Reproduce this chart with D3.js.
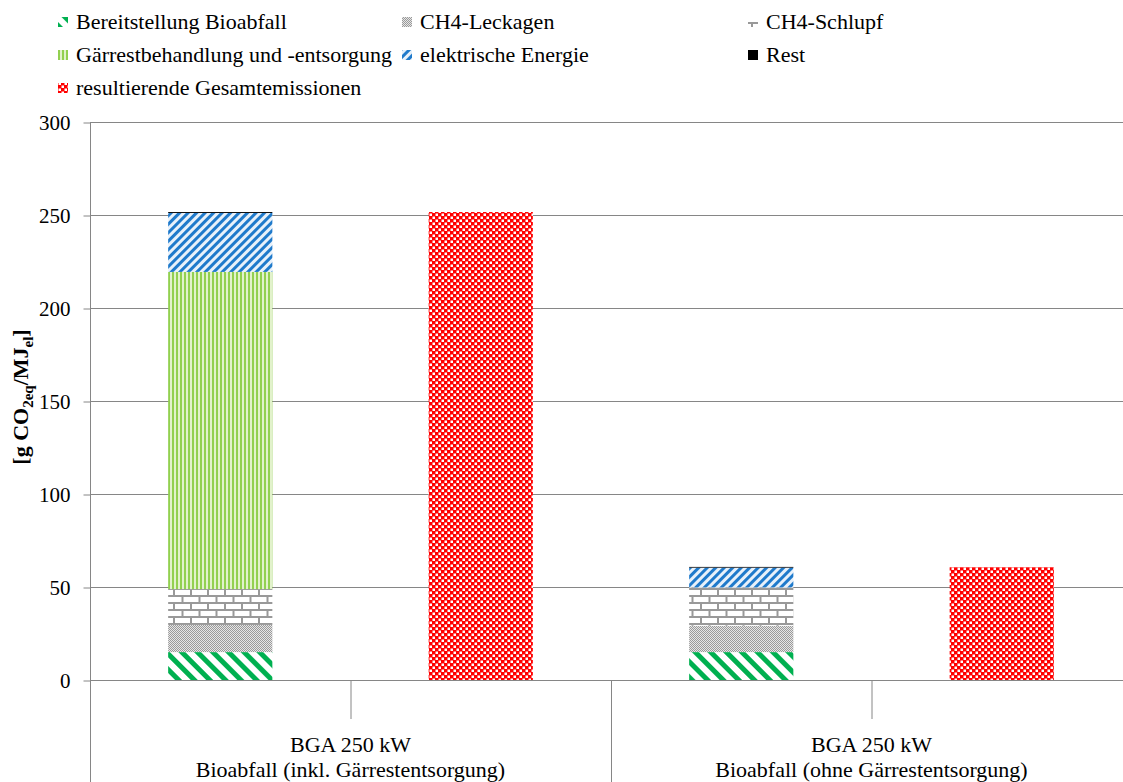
<!DOCTYPE html>
<html><head><meta charset="utf-8">
<script src="https://cdn.jsdelivr.net/npm/d3@7"></script>
<style>
html,body{margin:0;padding:0;background:#fff;}
svg{display:block;font-family:"Liberation Serif","Times New Roman",serif;}
</style></head>
<body>
<svg id="chart" width="1123" height="782"></svg>
<script>
// ---- data ----
const groups = ["BGA 250 kW|Bioabfall (inkl. Gärrestentsorgung)", "BGA 250 kW|Bioabfall (ohne Gärrestentsorgung)"];
const categories = ["g1-stack", "g1-total", "g2-stack", "g2-total"];
const seriesNames = ["Bereitstellung Bioabfall", "CH4-Leckagen", "CH4-Schlupf", "Gärrestbehandlung und -entsorgung", "elektrische Energie", "Rest", "resultierende Gesamtemissionen"];
const bereitstellung = [15.0, 0, 15.0, 0];
const leckagen = [14.6, 0, 14.2, 0];
const schlupf = [19.3, 0, 20.6, 0];
const gaerrest = [170.5, 0, 0, 0];
const elektrisch = [31.7, 0, 10.6, 0];
const rest = [0.5, 0, 0.4, 0];
const gesamt = [0, 251.6, 0, 60.6];
const yTicks = [0, 50, 100, 150, 200, 250, 300];

const seriesValues = [bereitstellung, leckagen, schlupf, gaerrest, elektrisch, rest, gesamt];
const patternIds = ["p-bereit", "p-leck", "p-schlupf", "p-gaer", "p-elek", null, "p-ges"];

const FONT = "Liberation Serif, Times New Roman, serif";
const svg = d3.select("#chart");
const defs = svg.append("defs");

function pat(id, w, h, build, transform) {
  const p = defs.append("pattern").attr("id", id).attr("patternUnits", "userSpaceOnUse")
    .attr("width", w).attr("height", h);
  if (transform) p.attr("patternTransform", transform);
  build(p);
}
// green wide downward diagonal
pat("p-bereit", 11, 11, p => {
  p.append("rect").attr("width", 11).attr("height", 11).attr("fill", "#fff");
  p.append("rect").attr("x", 0).attr("y", 0).attr("width", 11).attr("height", 5).attr("fill", "#00B050");
}, "rotate(45)");
// gray fine checker
pat("p-leck", 2, 2, p => {
  p.append("rect").attr("width", 2).attr("height", 2).attr("fill", "#e6e6e6");
  p.append("rect").attr("width", 1).attr("height", 1).attr("fill", "#9a9a9a");
  p.append("rect").attr("x", 1).attr("y", 1).attr("width", 1).attr("height", 1).attr("fill", "#9a9a9a");
});
// brick
pat("p-schlupf", 17, 14, p => {
  p.append("rect").attr("width", 17).attr("height", 14).attr("fill", "#fff");
  const s = "#999";
  p.append("rect").attr("x", 0).attr("y", 0).attr("width", 17).attr("height", 2).attr("fill", s);
  p.append("rect").attr("x", 0).attr("y", 7).attr("width", 17).attr("height", 2).attr("fill", s);
  p.append("rect").attr("x", 3).attr("y", 0).attr("width", 2).attr("height", 7).attr("fill", s);
  p.append("rect").attr("x", 11.5).attr("y", 7).attr("width", 2).attr("height", 7).attr("fill", s);
});
// light green vertical lines
pat("p-gaer", 4, 4, p => {
  p.append("rect").attr("width", 4).attr("height", 4).attr("fill", "#e2f2cc");
  p.append("rect").attr("x", 0).attr("width", 2).attr("height", 4).attr("fill", "#92D050");
});
// blue wide upward diagonal
pat("p-elek", 6, 6, p => {
  p.append("rect").attr("width", 6).attr("height", 6).attr("fill", "#e8f1fa");
  p.append("rect").attr("width", 6).attr("height", 3).attr("fill", "#1f7acb");
}, "rotate(-45)");
// red checker
pat("p-ges", 6, 6, p => {
  p.append("rect").attr("width", 6).attr("height", 6).attr("fill", "#ff0000");
  p.append("rect").attr("x", 0.5).attr("y", 0.5).attr("width", 2.5).attr("height", 2.5).attr("fill", "#fff");
  p.append("rect").attr("x", 3.5).attr("y", 3.5).attr("width", 2.5).attr("height", 2.5).attr("fill", "#fff");
});

const plotLeft = 90, plotRight = 1132, plotTop = 122, plotBottom = 680;
const y = d3.scaleLinear().domain([0, 300]).range([plotBottom, plotTop]);
const x = d3.scaleBand().domain(categories).range([plotLeft, plotRight]).paddingInner(0.6).paddingOuter(0.3);
const xg = d3.scaleBand().domain(groups).range([plotLeft, plotRight]);
const xStep = d3.scaleBand().domain(categories).range([plotLeft, plotRight]);

const gridColor = "#868686";

// gridlines
svg.append("g").selectAll("line").data(yTicks.filter(d => d > 0)).join("line")
  .attr("x1", plotLeft).attr("x2", 1123).attr("y1", d => y(d) + 0.5).attr("y2", d => y(d) + 0.5)
  .attr("stroke", gridColor).attr("stroke-width", 1);

// y axis
const yAxis = d3.axisLeft(y).tickValues(yTicks).tickSize(7).tickPadding(13);
const ya = svg.append("g").attr("transform", `translate(${plotLeft + 0.5},0.5)`).call(yAxis)
  .attr("font-family", FONT).attr("font-size", 21);
ya.select(".domain").remove();
ya.selectAll(".tick line").attr("stroke", gridColor);
ya.selectAll(".tick text").attr("fill", "#000");
svg.append("line").attr("x1", plotLeft + 0.5).attr("x2", plotLeft + 0.5).attr("y1", plotTop).attr("y2", 782)
  .attr("stroke", gridColor);

// bars (stacked)
const table = categories.map((c, i) => {
  const o = { cat: c };
  seriesNames.forEach((s, k) => o[s] = seriesValues[k][i]);
  return o;
});
const stack = d3.stack().keys(seriesNames)(table);
stack.forEach((layer, k) => {
  svg.append("g").selectAll("rect").data(layer.filter(d => d[1] - d[0] > 0)).join("rect")
    .attr("x", d => x(d.data.cat))
    .attr("width", x.bandwidth())
    .attr("y", d => y(d[1]))
    .attr("height", d => y(d[0]) - y(d[1]))
    .attr("fill", patternIds[k] ? `url(#${patternIds[k]})` : "#000");
});

// x axis baseline
svg.append("line").attr("x1", plotLeft).attr("x2", 1123).attr("y1", plotBottom + 0.5).attr("y2", plotBottom + 0.5)
  .attr("stroke", gridColor);
// inner category ticks (between bars within each group)
const innerTicks = categories.filter((c, i) => i % 2 === 1).map(c => xStep(c));
svg.append("g").selectAll("line").data(innerTicks).join("line")
  .attr("x1", d => d + 0.5).attr("x2", d => d + 0.5).attr("y1", plotBottom).attr("y2", 719)
  .attr("stroke", gridColor);
// group separators
svg.append("g").selectAll("line").data(groups.slice(1)).join("line")
  .attr("x1", d => xg(d) + 0.5).attr("x2", d => xg(d) + 0.5).attr("y1", plotBottom).attr("y2", 782)
  .attr("stroke", gridColor);
// group labels
const gl = svg.append("g").selectAll("text").data(groups).join("text")
  .attr("x", d => xg(d) + xg.bandwidth() / 2)
  .attr("text-anchor", "middle").attr("font-size", 22).attr("fill", "#000");
gl.append("tspan").attr("x", d => xg(d) + xg.bandwidth() / 2).attr("y", 752).text(d => d.split("|")[0]);
gl.append("tspan").attr("x", d => xg(d) + xg.bandwidth() / 2).attr("y", 777).text(d => d.split("|")[1]);

// y axis title
const yt = svg.append("text").attr("transform", "translate(28,397) rotate(-90)")
  .attr("text-anchor", "middle").attr("font-size", 22).attr("font-weight", "bold").attr("fill", "#000");
yt.append("tspan").text("[g CO");
yt.append("tspan").attr("font-size", 15).attr("dy", 5).text("2eq");
yt.append("tspan").attr("dy", -5).text("/MJ");
yt.append("tspan").attr("font-size", 15).attr("dy", 5).text("el");
yt.append("tspan").attr("dy", -5).text("]");

// legend
const legX = [58, 402, 748];
const legY = [22, 55, 88];
const legOrder = [0, 1, 2, 3, 4, 5, 6];
const lg = svg.append("g").selectAll("g").data(legOrder).join("g")
  .attr("transform", (d, i) => `translate(${legX[i % 3]},${legY[Math.floor(i / 3)]})`);
lg.append("rect").attr("x", 0).attr("y", -5).attr("width", 10).attr("height", 10)
  .attr("fill", d => patternIds[d] ? `url(#${patternIds[d]})` : "#000");
lg.append("text").attr("x", 18).attr("y", 7).attr("font-size", 22).attr("fill", "#000")
  .text(d => seriesNames[d]);
</script>
</body></html>
